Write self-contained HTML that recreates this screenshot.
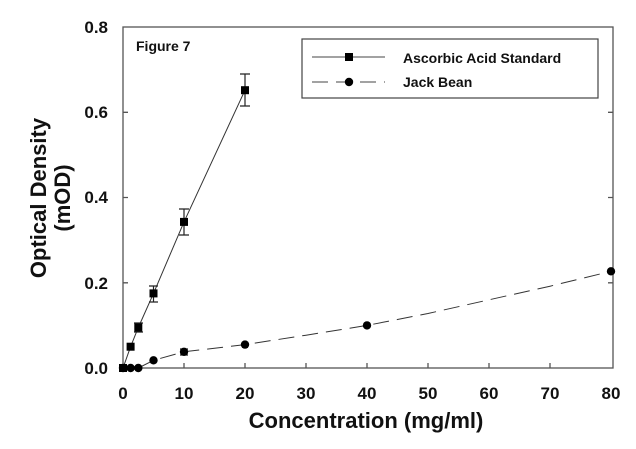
<!DOCTYPE html>
<html><head><style>body{margin:0;background:#fff}svg{display:block}text{font-family:"Liberation Sans",Arial,sans-serif;font-weight:bold;fill:#111}</style></head><body>
<svg width="636" height="449" viewBox="0 0 636 449">
<g stroke="#555" stroke-width="1.3" fill="none">
<rect x="123" y="27" width="490" height="341"/>
<path d="M184,368v-5M245,368v-5M306,368v-5M367,368v-5M428,368v-5M489,368v-5M550,368v-5M123,282.8h5M123,197.5h5M123,112.3h5M613,282.8h-5M613,197.5h-5M613,112.3h-5"/>
</g>
<g font-size="17" text-anchor="middle">
<text x="123" y="399">0</text><text x="184" y="399">10</text><text x="245" y="399">20</text><text x="306" y="399">30</text><text x="367" y="399">40</text><text x="428" y="399">50</text><text x="489" y="399">60</text><text x="550" y="399">70</text><text x="611" y="399">80</text>
</g>
<g font-size="17" text-anchor="end">
<text x="108" y="374">0.0</text><text x="108" y="289">0.2</text><text x="108" y="203">0.4</text><text x="108" y="118">0.6</text><text x="108" y="33">0.8</text>
</g>
<text x="366" y="428" font-size="22" text-anchor="middle">Concentration  (mg/ml)</text>
<text transform="translate(46,198) rotate(-90)" font-size="22" text-anchor="middle">Optical  Density</text>
<text transform="translate(70,198) rotate(-90)" font-size="22" text-anchor="middle">(mOD)</text>
<text x="136" y="51" font-size="14">Figure 7</text>
<rect x="302" y="39" width="296" height="59" fill="#fff" stroke="#444" stroke-width="1.2"/>
<path d="M312,57h73" stroke="#444" stroke-width="1"/>
<rect x="345" y="53" width="8" height="8" fill="#000"/>
<path d="M312,82h73" stroke="#444" stroke-width="1" stroke-dasharray="16,8"/>
<circle cx="349" cy="82" r="4.2" fill="#000"/>
<text x="403" y="63" font-size="14">Ascorbic Acid Standard</text>
<text x="403" y="87" font-size="14">Jack Bean</text>
<polyline fill="none" stroke="#333" stroke-width="1" points="123,368 130.6,346.7 138.3,327.5 153.5,293.4 184,221.9 245,90.2"/>
<g stroke="#222" stroke-width="1.2" fill="none">
<path d="M245,74v32M240,74h10M240,106h10M184,209v26M179,209h10M179,235h10M153.5,286v16M149,286h9M149,302h9M138.3,323v9M134,323h9M134,332h9M184,349v6M180,349h8M180,355h8"/>
</g>
<g fill="#000">
<rect x="119" y="364" width="8" height="8"/><rect x="126.6" y="342.7" width="8" height="8"/><rect x="134.3" y="323.5" width="8" height="8"/><rect x="149.5" y="289.4" width="8" height="8"/><rect x="180" y="217.9" width="8" height="8"/><rect x="241" y="86.2" width="8" height="8"/>
</g>
<polyline fill="none" stroke="#333" stroke-width="1" stroke-dasharray="16,8" points="138.3,368 153.5,360.3 184,351.8 245,344.6 306,335.2 367,325.4 428,313.5 489,299.8 550,286.2 611,271.3"/>
<g fill="#000">
<circle cx="123" cy="368" r="4.2"/><circle cx="130.6" cy="368" r="4.2"/><circle cx="138.3" cy="368" r="4.2"/><circle cx="153.5" cy="360.3" r="4.2"/><circle cx="184" cy="351.8" r="4.2"/><circle cx="245" cy="344.6" r="4.2"/><circle cx="367" cy="325.4" r="4.2"/><circle cx="611" cy="271.3" r="4.2"/>
</g>
</svg>
</body></html>
